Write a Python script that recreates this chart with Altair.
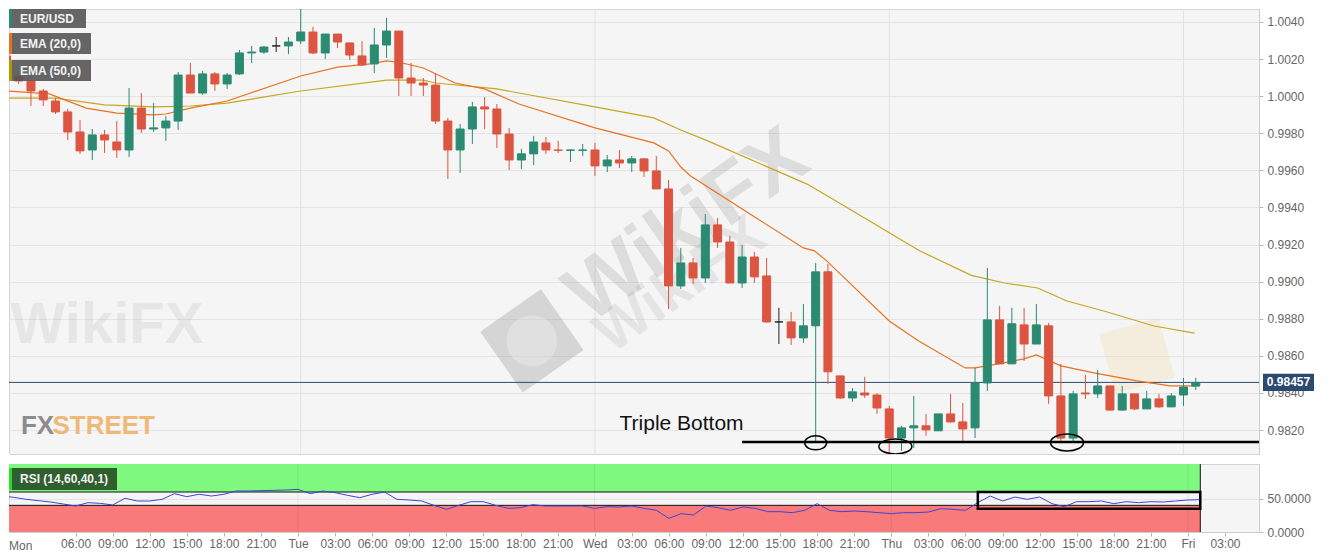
import altair as alt
import pandas as pd
import numpy as np

# ---------------- data ----------------
candle_hour = list(range(98))  # hours since Mon 00:00
open_ = [1.00217, 1.00104, 1.00082, 1.00028, 0.99974, 0.99915, 0.99807, 0.99710, 0.99791, 0.99753,
         0.99710, 0.99936, 0.99823, 0.99829, 0.99866, 1.00114, 1.00017, 1.00120, 1.00066, 1.00120,
         1.00233, 1.00238, 1.00271, 1.00271, 1.00298, 1.00346, 1.00233, 1.00335, 1.00287, 1.00217,
         1.00174, 1.00276, 1.00351, 1.00098, 1.00071, 1.00060, 0.99866, 0.99710, 0.99823, 0.99942,
         0.99931, 0.99796, 0.99656, 0.99689, 0.99748, 0.99710, 0.99708, 0.99708, 0.99710, 0.99624,
         0.99656, 0.99640, 0.99662, 0.99597, 0.99500, 0.98977, 0.99101, 0.99020, 0.99306, 0.99214,
         0.98993, 0.99133, 0.99031, 0.98783, 0.98783, 0.98697, 0.98762, 0.99053, 0.98492, 0.98373,
         0.98400, 0.98389, 0.98314, 0.98157, 0.98212, 0.98223, 0.98196, 0.98287, 0.98244, 0.98212,
         0.98454, 0.98794, 0.98557, 0.98767, 0.98664, 0.98762, 0.98384, 0.98157, 0.98400, 0.98395,
         0.98438, 0.98308, 0.98395, 0.98314, 0.98368, 0.98325, 0.98389, 0.98437]
high_ = [1.00254, 1.00125, 1.00085, 1.00039, 0.99990, 0.99931, 0.99872, 0.99823, 0.99818, 0.99866,
         1.00044, 1.00017, 0.99963, 0.99893, 1.00130, 1.00179, 1.00136, 1.00130, 1.00125, 1.00249,
         1.00271, 1.00271, 1.00319, 1.00319, 1.00502, 1.00373, 1.00335, 1.00335, 1.00287, 1.00298,
         1.00368, 1.00422, 1.00351, 1.00179, 1.00098, 1.00125, 0.99883, 0.99850, 0.99969, 0.99996,
         0.99958, 0.99829, 0.99716, 0.99786, 0.99780, 0.99759, 0.99712, 0.99742, 0.99748, 0.99683,
         0.99710, 0.99678, 0.99667, 0.99678, 0.99548, 0.99182, 0.99128, 0.99365, 0.99344, 0.99247,
         0.99198, 0.99160, 0.99128, 0.98859, 0.98837, 0.98880, 0.99101, 0.99096, 0.98492, 0.98427,
         0.98487, 0.98400, 0.98330, 0.98223, 0.98384, 0.98287, 0.98287, 0.98395, 0.98346, 0.98535,
         0.99074, 0.98869, 0.98859, 0.98859, 0.98880, 0.98778, 0.98557, 0.98411, 0.98497, 0.98524,
         0.98438, 0.98438, 0.98395, 0.98411, 0.98395, 0.98400, 0.98481, 0.98481]
low_ = [1.00109, 1.00066, 0.99947, 0.99947, 0.99904, 0.99764, 0.99689, 0.99656, 0.99694, 0.99667,
        0.99672, 0.99802, 0.99807, 0.99759, 0.99818, 1.00017, 1.00007, 1.00028, 1.00039, 1.00114,
        1.00179, 1.00227, 1.00238, 1.00227, 1.00281, 1.00227, 1.00201, 1.00260, 1.00195, 1.00163,
        1.00125, 1.00206, 1.00001, 1.00001, 1.00001, 0.99850, 0.99554, 0.99586, 0.99742, 0.99823,
        0.99721, 0.99602, 0.99608, 0.99629, 0.99689, 0.99694, 0.99645, 0.99678, 0.99570, 0.99591,
        0.99613, 0.99591, 0.99565, 0.99500, 0.98853, 0.98961, 0.98988, 0.98993, 0.99182, 0.98993,
        0.98966, 0.98993, 0.98778, 0.98664, 0.98659, 0.98670, 0.98131, 0.98449, 0.98368, 0.98352,
        0.98373, 0.98287, 0.98077, 0.98088, 0.98104, 0.98169, 0.98196, 0.98239, 0.98131, 0.98157,
        0.98411, 0.98557, 0.98557, 0.98573, 0.98664, 0.98341, 0.98141, 0.98141, 0.98368, 0.98373,
        0.98303, 0.98303, 0.98308, 0.98314, 0.98319, 0.98325, 0.98330, 0.98416]
close_ = [1.00125, 1.00082, 1.00028, 0.99980, 0.99915, 0.99807, 0.99705, 0.99791, 0.99764, 0.99710,
          0.99936, 0.99823, 0.99829, 0.99866, 1.00114, 1.00017, 1.00120, 1.00066, 1.00114, 1.00233,
          1.00238, 1.00265, 1.00271, 1.00292, 1.00346, 1.00233, 1.00335, 1.00292, 1.00222, 1.00168,
          1.00276, 1.00351, 1.00098, 1.00071, 1.00060, 0.99866, 0.99710, 0.99823, 0.99942, 0.99931,
          0.99796, 0.99656, 0.99689, 0.99753, 0.99710, 0.99708, 0.99710, 0.99710, 0.99624, 0.99656,
          0.99640, 0.99662, 0.99597, 0.99500, 0.98977, 0.99101, 0.99020, 0.99306, 0.99214, 0.98993,
          0.99133, 0.99026, 0.98783, 0.98783, 0.98697, 0.98762, 0.99053, 0.98514, 0.98373, 0.98406,
          0.98389, 0.98319, 0.98157, 0.98212, 0.98223, 0.98201, 0.98287, 0.98244, 0.98206, 0.98454,
          0.98794, 0.98557, 0.98773, 0.98664, 0.98767, 0.98384, 0.98157, 0.98395, 0.98395, 0.98438,
          0.98308, 0.98395, 0.98314, 0.98368, 0.98325, 0.98384, 0.98432, 0.98457]
rsi_ = [54, 52, 49, 47, 45, 42, 39, 44, 43, 40.5,
        50.6, 46.5, 46.5, 49, 57.5, 53, 56.6, 54, 56.6, 61.5,
        61.5, 62, 62.5, 63, 64, 57.5, 61.5, 59, 55, 51.5,
        56.6, 60, 49, 48, 46.5, 40, 34, 40, 45.5, 45.5,
        40, 35.5, 36.5, 41, 39, 39, 39, 39, 35.5, 38,
        37.5, 39, 35.5, 32.5, 20.5, 27.5, 25.5, 39, 36.5, 32.5,
        37.5, 35.5, 30.5, 30.5, 29, 32.5, 42.5, 32.5, 30.5, 31.5,
        30.5, 29, 27.5, 29, 29, 30, 35, 34, 32.5, 44,
        54, 46.5, 52.5, 49, 52.5, 42.5, 38, 45.5, 45.5, 46.5,
        42.5, 45.5, 44, 45.5, 45, 46.5, 48, 48.5]
ema20_hour = [0, 3.5, 6.5, 9, 12, 13, 15, 18, 24, 27, 29.7, 31, 32.3, 34, 36.6, 39, 41.8, 48,
              52.8, 54, 55, 55.8, 60.9, 65, 65.9, 66.9, 68, 72, 74.4, 78.2, 79, 80.9, 83, 84,
              86, 88.7, 92.2, 94.9, 97]
ema20_val = [1.00028, 1.00012, 0.99936, 0.99909, 0.99899, 0.99904, 0.99936, 0.99974, 1.00109,
             1.00157, 1.00174, 1.00190, 1.00179, 1.00152, 1.00071, 1.00039, 0.99958, 0.99829,
             0.99748, 0.99705, 0.99618, 0.99570, 0.99354, 0.99182, 0.99166, 0.99112, 0.99042,
             0.98788, 0.98680, 0.98535, 0.98535, 0.98557, 0.98584, 0.98605, 0.98546, 0.98508,
             0.98465, 0.98438, 0.98438]
ema50_hour = [0, 4, 8, 12, 15, 18, 24, 31, 34, 35, 40, 48, 52.8, 55, 57.2, 65.3, 68, 74.4,
              78.7, 81.4, 84.1, 86.5, 89.5, 93.6, 96.9]
ema50_val = [0.99990, 0.99990, 0.99953, 0.99942, 0.99947, 0.99963, 1.00028, 1.00087, 1.00087,
             1.00071, 1.00039, 0.99942, 0.99883, 0.99818, 0.99759, 0.99526, 0.99422, 0.99169,
             0.99034, 0.98993, 0.98966, 0.98896, 0.98842, 0.98761, 0.98723]
day_hours = [24, 48, 72, 96]
tick_hours = list(range(6, 100, 3))
tick_labels = ["06:00", "09:00", "12:00", "15:00", "18:00", "21:00",
               "Tue", "03:00", "06:00", "09:00", "12:00", "15:00", "18:00", "21:00",
               "Wed", "03:00", "06:00", "09:00", "12:00", "15:00", "18:00", "21:00",
               "Thu", "03:00", "06:00", "09:00", "12:00", "15:00", "18:00", "21:00",
               "Fri", "03:00"]
price_ticks = [0.9820, 0.9840, 0.9860, 0.9880, 0.9900, 0.9920, 0.9940, 0.9960, 0.9980,
               1.0000, 1.0020, 1.0040]
rsi_ticks = [0, 50]
rsi_levels = [40, 60]
last_price = 0.98457
support_price = 0.98136
support_from_hour = 60.0
bottom_hours = [66.0, 72.5, 86.5]
bottom_prices = [0.98131, 0.98112, 0.98133]
box_hours = [79.0, 97.0]
box_rsi = [35, 60]

# ---------------- styling ----------------
GREEN = "#2a8a72"
RED = "#dc5540"
ORANGE = "#e8721e"
OLIVE = "#c4a820"
FONT = "Liberation Sans"
W_MAIN, H_MAIN, H_RSI = 1250, 445, 68

xscale = alt.Scale(domain=[0.615, 101.75], nice=False, zero=False)
yscale = alt.Scale(domain=[0.98071, 1.0047], nice=False, zero=False)
rscale = alt.Scale(domain=[0, 102], nice=False, zero=False)

y_axis = alt.Axis(orient="right", values=price_ticks, format=".4f", grid=True, tickSize=4,
                  labelPadding=4, title=None)
label_expr = "[" + ",".join("'%s'" % t for t in tick_labels) + "][round((datum.value - 6) / 3)]"
x_axis_rsi = alt.Axis(values=tick_hours, labelExpr=label_expr, grid=False, tickSize=4,
                      labelPadding=2, labelFlush=False, labelOverlap=False, title=None)
r_axis = alt.Axis(orient="right", values=rsi_ticks, format=".4f", grid=True, tickSize=4,
                  labelPadding=4, title=None)


def X(f):
    return alt.X(f, type="quantitative", scale=xscale, axis=None)


def XR(f):
    return alt.X(f, type="quantitative", scale=xscale, axis=x_axis_rsi)


def Y(f):
    return alt.Y(f, type="quantitative", scale=yscale, axis=y_axis)


def R(f):
    return alt.Y(f, type="quantitative", scale=rscale, axis=r_axis)


dummy = pd.DataFrame({"d": [0]})

# ---------------- main panel ----------------
candles = pd.DataFrame({"h": candle_hour, "o": open_, "hi": high_, "lo": low_, "c": close_})
candles["dir"] = np.where(candles.c > candles.o, "up", np.where(candles.c < candles.o, "down", "flat"))
cscale = alt.Scale(domain=["up", "down", "flat"], range=[GREEN, RED, "#222222"])

days = pd.DataFrame({"h": day_hours})
grid_main = alt.Chart(days).mark_rule(color="#e2e2e2", strokeWidth=1).encode(x=X("h"))

wm = pd.DataFrame({
    "h": [8.2, 55.5, 55.0],
    "v": [0.98762, 0.99300, 0.98980],
    "t": ["WikiFX", "WikiFX", "WikiFX"],
})
wm_left = alt.Chart(wm.iloc[[0]]).mark_text(fontSize=58, fontWeight="bold", font=FONT, color="#9a9a9a",
                                          opacity=0.16, clip=True).encode(x=X("h"), y=Y("v"), text="t:N")
wm_big = alt.Chart(wm.iloc[[1]]).mark_text(fontSize=82, fontWeight="bold", font=FONT, color="#8a8a8a",
                                         opacity=0.22, angle=325, clip=True).encode(x=X("h"), y=Y("v"), text="t:N")
wm_mid = alt.Chart(wm.iloc[[2]]).mark_text(fontSize=58, fontWeight="bold", font=FONT, color="#8a8a8a",
                                         opacity=0.15, angle=325, clip=True).encode(x=X("h"), y=Y("v"), text="t:N")
logos = pd.DataFrame({"h": [42.85, 92.2], "v": [0.98681, 0.98600]})
logo_gray = alt.Chart(logos.iloc[[0]]).mark_point(shape="square", filled=True, size=5500, color="#8c8c8c",
                                                 opacity=0.3, angle=325, clip=True).encode(x=X("h"), y=Y("v"))
logo_gray_in = alt.Chart(logos.iloc[[0]]).mark_point(shape="circle", filled=True, size=2600, color="#f0f0f0",
                                                    opacity=0.4, clip=True).encode(x=X("h"), y=Y("v"))
logo_yel = alt.Chart(logos.iloc[[1]]).mark_point(shape="square", filled=True, size=3800, color="#f1dca8",
                                                opacity=0.3, angle=345, clip=True).encode(x=X("h"), y=Y("v"))

ema20 = alt.Chart(pd.DataFrame({"h": ema20_hour, "v": ema20_val})).mark_line(
    color=ORANGE, strokeWidth=1.2, clip=True).encode(x=X("h"), y=Y("v"))
ema50 = alt.Chart(pd.DataFrame({"h": ema50_hour, "v": ema50_val})).mark_line(
    color=OLIVE, strokeWidth=1.2, clip=True).encode(x=X("h"), y=Y("v"))

lp = pd.DataFrame({"v": [last_price]})
price_line = alt.Chart(lp).mark_rule(color="#2d4a6c", strokeWidth=1).encode(y=Y("v"))

wicks = alt.Chart(candles).mark_rule(strokeWidth=1, clip=True).encode(
    x=X("h"), y=Y("lo"), y2=alt.Y2("hi"),
    color=alt.Color("dir:N", scale=cscale, legend=None))
bodies = alt.Chart(candles).mark_bar(width=8, strokeWidth=1, clip=True).encode(
    x=X("h"), y=Y("o"), y2=alt.Y2("c"),
    color=alt.Color("dir:N", scale=cscale, legend=None),
    stroke=alt.Stroke("dir:N", scale=cscale, legend=None))

sup = pd.DataFrame({"h": [support_from_hour], "h2": [110.0], "v": [support_price]})
support = alt.Chart(sup).mark_rule(color="black", strokeWidth=2.5, clip=True).encode(
    x=X("h"), x2=alt.X2("h2"), y=Y("v"))

ell_w = [22, 33, 33]
ell_h = [14, 15, 17]
ells = pd.DataFrame({
    "h": bottom_hours, "v": bottom_prices,
    "shape": ["M -1 0 A 1 %.3f 0 1 1 1 0 A 1 %.3f 0 1 1 -1 0 Z" % (hh / ww, hh / ww) for ww, hh in zip(ell_w, ell_h)],
    "size": [ww * ww for ww in ell_w],
})
ellipses = alt.Chart(ells).mark_point(filled=False, stroke="black", strokeWidth=1.5, opacity=1, clip=True).encode(
    x=X("h"), y=Y("v"), shape=alt.Shape("shape:N", scale=None), size=alt.Size("size:Q", scale=None))

tb = pd.DataFrame({"h": [50.0], "v": [0.98233], "t": ["Triple Bottom"]})
triple = alt.Chart(tb).mark_text(align="left", baseline="middle", fontSize=21, font=FONT,
                                 color="#111111").encode(x=X("h"), y=Y("v"), text="t:N")

fx = pd.DataFrame({"h": [1.18, 3.75], "v": [0.98179, 0.98179], "t": ["FX", "STREET"]})
fx1 = alt.Chart(fx.iloc[[0]]).mark_text(align="left", baseline="alphabetic", fontSize=26, fontWeight="bold",
                                        font=FONT, color="#8c8c8c").encode(x=X("h"), y=Y("v"), text="t:N")
fx2 = alt.Chart(fx.iloc[[1]]).mark_text(align="left", baseline="alphabetic", fontSize=26, fontWeight="bold",
                                        font=FONT, color="#f0b878").encode(x=X("h"), y=Y("v"), text="t:N")

legend_layers = []
for k, (name, col, wdt) in enumerate([("EUR/USD", GREEN, 77), ("EMA (20,0)", ORANGE, 82), ("EMA (50,0)", "#b09a00", 82)]):
    top = 0 if k == 0 else 24 + (k - 1) * 27
    bot = 19 if k == 0 else top + 21
    legend_layers.append(alt.Chart(dummy).mark_rect(fill="#555555", opacity=0.9).encode(
        x=alt.value(0), x2=alt.value(wdt), y=alt.value(top), y2=alt.value(bot)))
    legend_layers.append(alt.Chart(dummy).mark_rect(fill=col).encode(
        x=alt.value(0), x2=alt.value(3), y=alt.value(top), y2=alt.value(bot)))
    legend_layers.append(alt.Chart(dummy).mark_text(align="left", baseline="middle", fontSize=12,
                                                    fontWeight="bold", font=FONT, color="#f2f2f2", text=name).encode(
        x=alt.value(11), y=alt.value((top + bot) / 2)))

pbox = alt.Chart(lp).transform_calculate(lo="datum.v - 0.00046", hi="datum.v + 0.00046").mark_rect(
    fill="#2b4a70").encode(x=alt.value(1254), x2=alt.value(1305), y=Y("lo"), y2=alt.Y2("hi"))
ptext = alt.Chart(lp).mark_text(align="center", baseline="middle", fontSize=12, fontWeight="bold",
                                font=FONT, color="white").encode(
    x=alt.value(1279.5), y=Y("v"), text=alt.Text("v:Q", format=".5f"))

main = alt.layer(
    grid_main, wm_left, logo_gray, logo_gray_in, logo_yel, wm_big, wm_mid,
    price_line, ema50, ema20, wicks, bodies, support, ellipses, triple, fx1, fx2,
    *legend_layers, pbox, ptext
).properties(width=W_MAIN, height=H_MAIN)

# ---------------- RSI panel ----------------
hi_zone = pd.DataFrame({"h": [0], "h2": [97], "y": [rsi_levels[1]], "y2": [102]})
lo_zone = pd.DataFrame({"h": [0], "h2": [97], "y": [0], "y2": [rsi_levels[0]]})
zone_hi = alt.Chart(hi_zone).mark_rect(fill="#7ef87e", clip=True).encode(
    x=XR("h"), x2=alt.X2("h2"), y=R("y"), y2=alt.Y2("y2"))
zone_lo = alt.Chart(lo_zone).mark_rect(fill="#f87a7a", clip=True).encode(
    x=XR("h"), x2=alt.X2("h2"), y=R("y"), y2=alt.Y2("y2"))
lvl = pd.DataFrame({"h": [0, 0], "h2": [97, 97], "y": rsi_levels})
level_rules = alt.Chart(lvl).mark_rule(color="#111111", strokeWidth=1, clip=True).encode(
    x=XR("h"), x2=alt.X2("h2"), y=R("y"))
end_rule = alt.Chart(pd.DataFrame({"h": [97], "y": [0], "y2": [102]})).mark_rule(
    color="#111111", strokeWidth=1).encode(x=XR("h"), y=R("y"), y2=alt.Y2("y2"))
grid_rsi = alt.Chart(days).mark_rule(color="#000000", opacity=0.07, strokeWidth=1).encode(x=XR("h"))
rsi_line = alt.Chart(pd.DataFrame({"h": candle_hour, "r": rsi_})).mark_line(
    color="#3a46d6", strokeWidth=1, clip=True).encode(x=XR("h"), y=R("r"))
bx = pd.DataFrame({"h": [box_hours[0]], "h2": [box_hours[1]], "y": [box_rsi[0]], "y2": [box_rsi[1]]})
rsi_box = alt.Chart(bx).mark_rect(fill="transparent", stroke="black", strokeWidth=2.5).encode(
    x=XR("h"), x2=alt.X2("h2"), y=R("y"), y2=alt.Y2("y2"))
rsi_lab_bg = alt.Chart(dummy).mark_rect(fill="#2f5e2f").encode(
    x=alt.value(0), x2=alt.value(108), y=alt.value(4), y2=alt.value(26))
rsi_lab_bar = alt.Chart(dummy).mark_rect(fill="#22e022").encode(
    x=alt.value(0), x2=alt.value(3), y=alt.value(4), y2=alt.value(26))
rsi_lab_txt = alt.Chart(dummy).mark_text(align="left", baseline="middle", fontSize=12, fontWeight="bold",
                                         font=FONT, color="#f2f2f2", text="RSI (14,60,40,1)").encode(
    x=alt.value(11), y=alt.value(15))
mon_txt = alt.Chart(dummy).mark_text(align="left", baseline="middle", fontSize=12, font=FONT,
                                     color="#666666", text="Mon").encode(x=alt.value(0), y=alt.value(H_RSI + 14))

rsi = alt.layer(
    zone_hi, zone_lo, level_rules, grid_rsi, end_rule, rsi_line, rsi_box, rsi_lab_bg, rsi_lab_bar,
    rsi_lab_txt, mon_txt
).properties(width=W_MAIN, height=H_RSI)

chart = alt.vconcat(main, rsi, spacing=10, bounds="flush").properties(
    padding={"left": 0, "top": 0, "right": 0, "bottom": 0}
).configure_view(
    fill="#f5f5f5", stroke="#d4d4dc", strokeWidth=1
).configure_axis(
    labelFont=FONT, labelFontSize=12, labelColor="#666666", tickColor="#b8b8b8",
    domainColor="#cccccc", gridColor="#e4e4e4"
)

chart.save("out.html", embed_options={"renderer": "svg", "actions": False})
